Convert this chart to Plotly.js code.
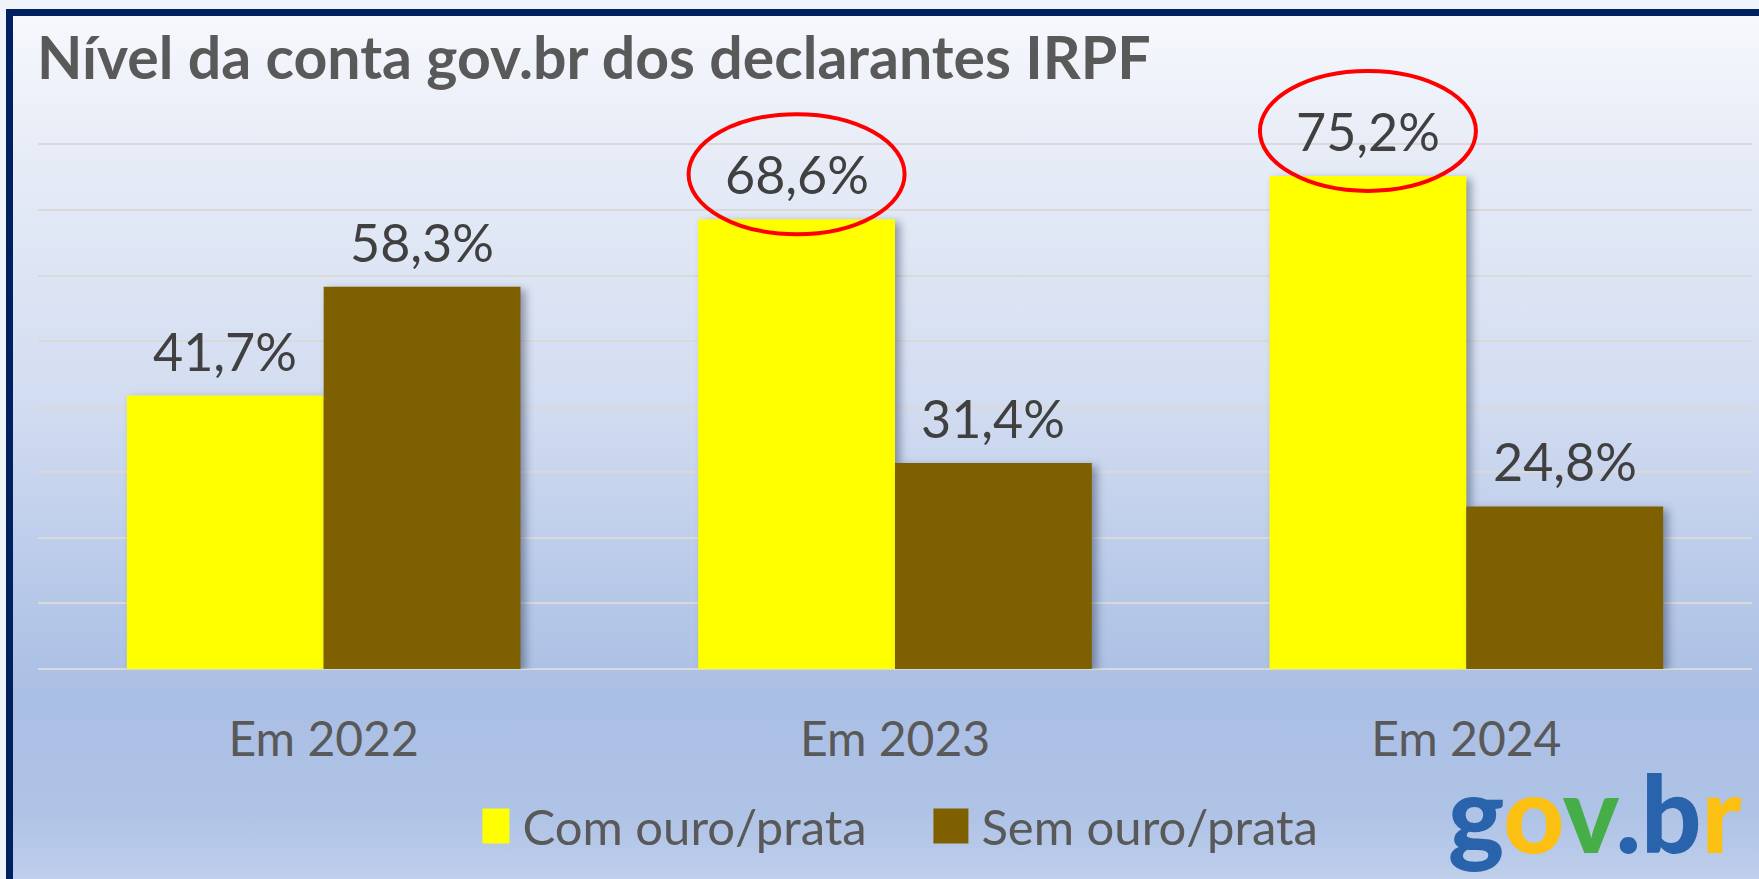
<!DOCTYPE html>
<html>
<head>
<meta charset="utf-8">
<script src="https://cdn.plot.ly/plotly-3.0.1.min.js"></script>
<style>
  html, body { margin:0; padding:0; width:1759px; height:879px; overflow:hidden; background:#eff4fb; }
  #frame { position:absolute; left:6px; top:9px; width:1800px; height:900px;
    border-top:7px solid #002060; border-left:7px solid #002060;
    background: linear-gradient(to bottom, #f6f8fc 0px, #e8edf7 120px, #d3ddf1 380px, #b9cae9 560px, #aabfe4 680px, #afc3e6 800px, #c3d2ed 880px); }
  #chart { position:absolute; left:0; top:0; width:1759px; height:879px; }
  .trace.bars { filter: drop-shadow(5px 3px 4px rgba(40,50,80,0.45)); }
</style>
</head>
<body>
<div id="frame"></div>
<div id="chart"></div>
<script>
const categories = ['Em 2022', 'Em 2023', 'Em 2024'];
const seriesNames = ['Com ouro/prata', 'Sem ouro/prata'];
const comOuroPrata = [41.7, 68.6, 75.2];
const semOuroPrata = [58.3, 31.4, 24.8];
const highlighted = ['Em 2023', 'Em 2024'];
const gridTicks = [0, 10, 20, 30, 40, 50, 60, 70, 80];
const titleText = 'Nível da conta gov.br dos declarantes IRPF';

const colors = ['#FFFF00', '#7F6000'];
const bargap = 0.311;
const barW = (1 - bargap) / 2;
const fmt = v => v.toFixed(1).replace('.', ',') + '%';

const series = [comOuroPrata, semOuroPrata];
const traces = series.map((vals, k) => ({
  type: 'bar', name: seriesNames[k], x: categories, y: vals,
  marker: { color: colors[k], line: { width: 0 } },
  hoverinfo: 'skip'
}));

const annotations = [];
series.forEach((vals, k) => {
  vals.forEach((v, i) => {
    annotations.push({
      xref: 'x', yref: 'y', x: i + (k === 0 ? -barW / 2 : barW / 2), y: v,
      text: fmt(v), showarrow: false, xanchor: 'center', yanchor: 'bottom', yshift: 12,
      font: { family: 'Lato, sans-serif', size: 52, color: '#404040' }
    });
  });
});
annotations.push({
  xref: 'paper', yref: 'paper', x: 0.9947, y: -0.235, xanchor: 'right', yanchor: 'middle',
  showarrow: false,
  text: '<span style="color:#2863ac">g</span><span style="color:#fbc012">o</span><span style="color:#46ae48">v</span><span style="color:#2863ac">.b</span><span style="color:#fbc012">r</span>',
  font: { family: 'Lato, sans-serif', size: 106, weight: 900, color: '#2863ac' }
});

const shapes = [];
categories.forEach((c, i) => {
  if (highlighted.includes(c)) {
    shapes.push({
      type: 'circle', xref: 'x', yref: 'y', xsizemode: 'pixel', ysizemode: 'pixel',
      xanchor: i - barW / 2, yanchor: comOuroPrata[i],
      x0: -108, x1: 108, y0: -15, y1: 105,
      line: { color: '#FF0000', width: 4 }, fillcolor: 'rgba(0,0,0,0)', layer: 'above'
    });
  }
});

const plotTop = 60, plotBottom = 669.3, pxPer10 = 65.6;
const yMax = (plotBottom - plotTop) / pxPer10 * 10;

const layout = {
  width: 1759, height: 879,
  paper_bgcolor: 'rgba(0,0,0,0)', plot_bgcolor: 'rgba(0,0,0,0)',
  margin: { l: 38, r: 7, t: plotTop, b: 879 - plotBottom },
  title: { text: '<b>' + titleText + '</b>', x: 0.021, xanchor: 'left', xref: 'container',
    y: 0.934, yanchor: 'middle', yref: 'container',
    font: { family: 'Lato, sans-serif', size: 59, color: '#595959' } },
  barmode: 'group', bargap: bargap, bargroupgap: 0,
  xaxis: { type: 'category', showgrid: false, zeroline: false, showline: false, ticks: '',
    ticklabelstandoff: 38,
    tickfont: { family: 'Lato, sans-serif', size: 48, color: '#595959' } },
  yaxis: { range: [0, yMax], tickvals: gridTicks, showticklabels: false, showgrid: true,
    gridcolor: '#d9d9d9', gridwidth: 2, zeroline: true, zerolinecolor: '#d9d9d9', zerolinewidth: 2, fixedrange: true },
  showlegend: true,
  legend: { orientation: 'h', x: 0.5352, xanchor: 'center', xref: 'container', y: 0.06, yref: 'container', yanchor: 'middle',
    entrywidth: 414, entrywidthmode: 'pixels',
    font: { family: 'Lato, sans-serif', size: 49, color: '#595959' }, bgcolor: 'rgba(0,0,0,0)', traceorder: 'normal' },
  annotations: annotations, shapes: shapes
};

Plotly.newPlot('chart', traces, layout, { displayModeBar: false, staticPlot: true }).then(gd => {
  gd.querySelectorAll('.legend .legendpoints path').forEach(p => {
    p.setAttribute('d', 'M7,17.5H-28V-17.5H7Z');
    p.style.transform = '';
  });
});
</script>
</body>
</html>
